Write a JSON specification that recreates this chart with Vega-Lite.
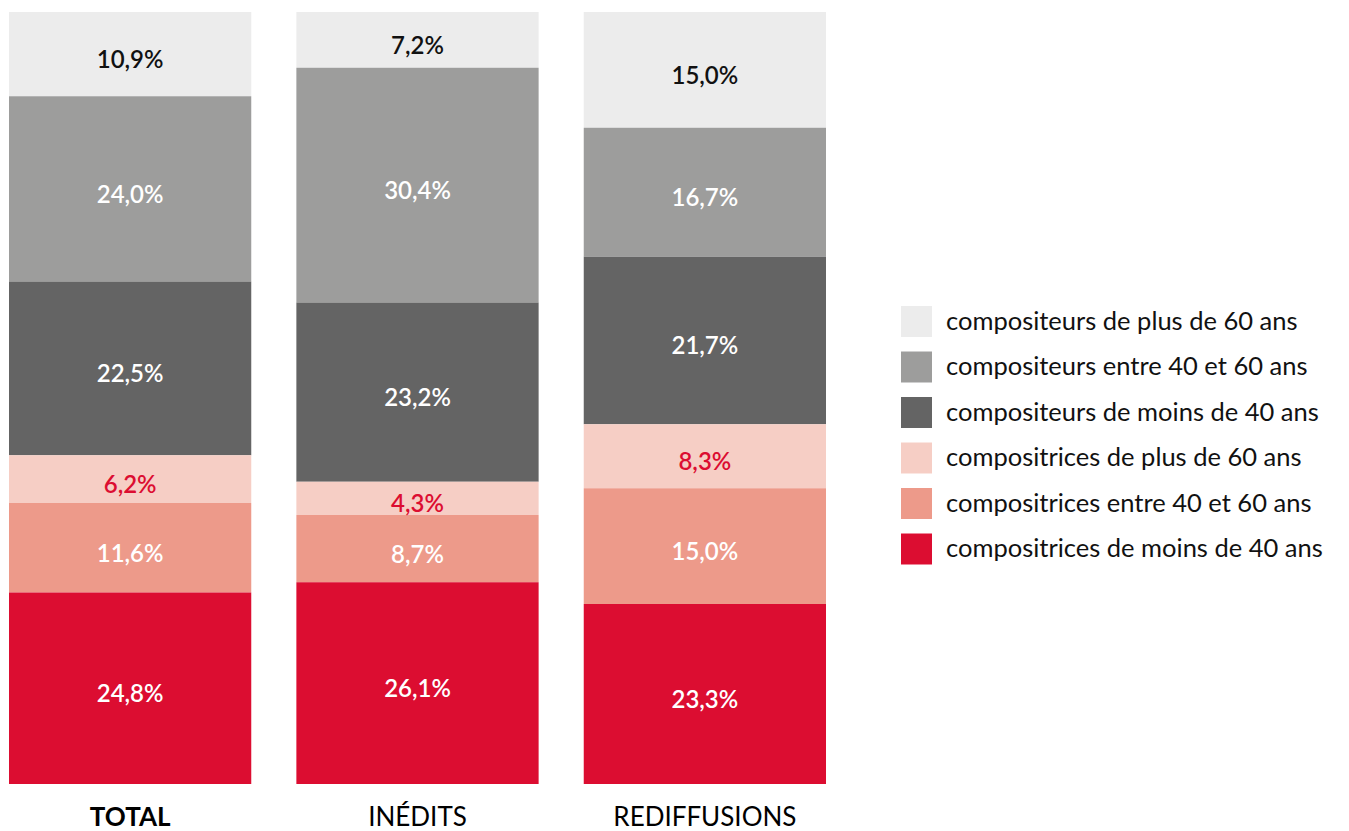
{
  "$schema": "https://vega.github.io/schema/vega-lite/v6.json",
  "width": 817,
  "height": 772,
  "autosize": {"type": "none"},
  "padding": {"left": 9, "top": 12, "right": 523, "bottom": 47},
  "background": "white",
  "config": {"view": {"stroke": null}, "font": "Lato"},
  "data": {
    "values": [
      {"groupe": "TOTAL", "categorie": "compositeurs de plus de 60 ans", "rang": 1, "valeur": 10.9, "label": "10,9%"},
      {"groupe": "TOTAL", "categorie": "compositeurs entre 40 et 60 ans", "rang": 2, "valeur": 24.0, "label": "24,0%"},
      {"groupe": "TOTAL", "categorie": "compositeurs de moins de 40 ans", "rang": 3, "valeur": 22.5, "label": "22,5%"},
      {"groupe": "TOTAL", "categorie": "compositrices de plus de 60 ans", "rang": 4, "valeur": 6.2, "label": "6,2%"},
      {"groupe": "TOTAL", "categorie": "compositrices entre 40 et 60 ans", "rang": 5, "valeur": 11.6, "label": "11,6%"},
      {"groupe": "TOTAL", "categorie": "compositrices de moins de 40 ans", "rang": 6, "valeur": 24.8, "label": "24,8%"},
      {"groupe": "INÉDITS", "categorie": "compositeurs de plus de 60 ans", "rang": 1, "valeur": 7.2, "label": "7,2%"},
      {"groupe": "INÉDITS", "categorie": "compositeurs entre 40 et 60 ans", "rang": 2, "valeur": 30.4, "label": "30,4%"},
      {"groupe": "INÉDITS", "categorie": "compositeurs de moins de 40 ans", "rang": 3, "valeur": 23.2, "label": "23,2%"},
      {"groupe": "INÉDITS", "categorie": "compositrices de plus de 60 ans", "rang": 4, "valeur": 4.3, "label": "4,3%"},
      {"groupe": "INÉDITS", "categorie": "compositrices entre 40 et 60 ans", "rang": 5, "valeur": 8.7, "label": "8,7%"},
      {"groupe": "INÉDITS", "categorie": "compositrices de moins de 40 ans", "rang": 6, "valeur": 26.1, "label": "26,1%"},
      {"groupe": "REDIFFUSIONS", "categorie": "compositeurs de plus de 60 ans", "rang": 1, "valeur": 15.0, "label": "15,0%"},
      {"groupe": "REDIFFUSIONS", "categorie": "compositeurs entre 40 et 60 ans", "rang": 2, "valeur": 16.7, "label": "16,7%"},
      {"groupe": "REDIFFUSIONS", "categorie": "compositeurs de moins de 40 ans", "rang": 3, "valeur": 21.7, "label": "21,7%"},
      {"groupe": "REDIFFUSIONS", "categorie": "compositrices de plus de 60 ans", "rang": 4, "valeur": 8.3, "label": "8,3%"},
      {"groupe": "REDIFFUSIONS", "categorie": "compositrices entre 40 et 60 ans", "rang": 5, "valeur": 15.0, "label": "15,0%"},
      {"groupe": "REDIFFUSIONS", "categorie": "compositrices de moins de 40 ans", "rang": 6, "valeur": 23.3, "label": "23,3%"}
    ]
  },
  "transform": [
    {"stack": "valeur", "groupby": ["groupe"], "sort": [{"field": "rang", "order": "descending"}], "offset": "normalize", "as": ["y0", "y1"]},
    {"calculate": "(datum.y0 + datum.y1) / 2", "as": "ymid"}
  ],
  "layer": [
    {
      "mark": {"type": "bar"},
      "encoding": {
        "x": {
          "field": "groupe", "type": "nominal", "sort": ["TOTAL", "INÉDITS", "REDIFFUSIONS"],
          "scale": {"paddingInner": 0.157, "paddingOuter": 0},
          "axis": {
            "title": null, "domain": false, "ticks": false, "labelAngle": 0,
            "labelFontSize": 26, "labelPadding": 20, "labelColor": "#000", "labelLimit": 400,
            "labelFontWeight": {"condition": {"test": "datum.value === 'TOTAL'", "value": "bold"}, "value": "normal"}
          }
        },
        "y": {"field": "y0", "type": "quantitative", "scale": {"domain": [0, 1], "nice": false, "zero": true}, "axis": null},
        "y2": {"field": "y1"},
        "color": {
          "field": "categorie", "type": "nominal",
          "scale": {
            "domain": ["compositeurs de plus de 60 ans", "compositeurs entre 40 et 60 ans", "compositeurs de moins de 40 ans", "compositrices de plus de 60 ans", "compositrices entre 40 et 60 ans", "compositrices de moins de 40 ans"],
            "range": ["#ececec", "#9d9d9c", "#646464", "#f6cec5", "#ed9a8a", "#dc0d31"]
          },
          "legend": {
            "orient": "none", "legendX": 892, "legendY": 294, "title": null,
            "symbolType": "square", "symbolSize": 961, "symbolStrokeWidth": 0,
            "labelFontSize": 25.5, "labelOffset": 14, "rowPadding": 14.5,
            "labelLimit": 600, "labelColor": "#111", "labelFont": "Lato"
          }
        }
      }
    },
    {
      "mark": {"type": "text", "fontSize": 24, "fontWeight": 600, "dy": 7, "baseline": "middle"},
      "encoding": {
        "x": {"field": "groupe", "type": "nominal", "sort": ["TOTAL", "INÉDITS", "REDIFFUSIONS"]},
        "y": {"field": "ymid", "type": "quantitative"},
        "text": {"field": "label"},
        "color": {
          "field": "categorie", "type": "nominal",
          "scale": {
            "domain": ["compositeurs de plus de 60 ans", "compositeurs entre 40 et 60 ans", "compositeurs de moins de 40 ans", "compositrices de plus de 60 ans", "compositrices entre 40 et 60 ans", "compositrices de moins de 40 ans"],
            "range": ["#111111", "#ffffff", "#ffffff", "#dc0d31", "#ffffff", "#ffffff"]
          },
          "legend": null
        }
      }
    }
  ],
  "resolve": {"scale": {"color": "independent"}}
}
